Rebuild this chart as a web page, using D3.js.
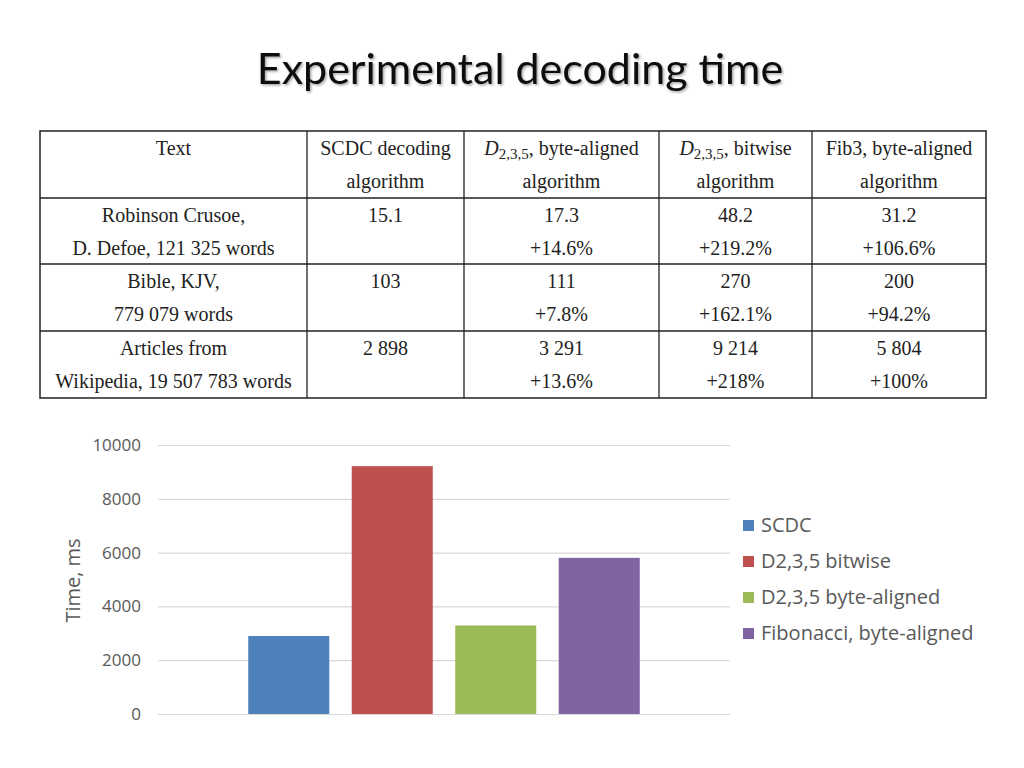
<!DOCTYPE html>
<html><head><meta charset="utf-8">
<script src="https://cdn.jsdelivr.net/npm/d3@7"></script>
<style>body{margin:0;background:#fff}svg{display:block}</style>
</head><body>
<svg id="c" width="1024" height="768"></svg>
<script>
// ---- data ----
const titleText = "Experimental decoding time";
const tableHeaders = [
  ["Text", ""],
  ["SCDC decoding", "algorithm"],
  ["D|2,3,5|, byte-aligned", "algorithm"],
  ["D|2,3,5|, bitwise", "algorithm"],
  ["Fib3, byte-aligned", "algorithm"]
];
const textNames = [["Robinson Crusoe,", "D. Defoe, 121 325 words"], ["Bible, KJV,", "779 079 words"], ["Articles from", "Wikipedia, 19 507 783 words"]];
const scdcTimes = ["15.1", "103", "2 898"];
const d235ByteTimes = ["17.3", "111", "3 291"];
const d235BytePct = ["+14.6%", "+7.8%", "+13.6%"];
const d235BitTimes = ["48.2", "270", "9 214"];
const d235BitPct = ["+219.2%", "+162.1%", "+218%"];
const fib3Times = ["31.2", "200", "5 804"];
const fib3Pct = ["+106.6%", "+94.2%", "+100%"];

const seriesNames = ["SCDC", "D2,3,5 bitwise", "D2,3,5 byte-aligned", "Fibonacci, byte-aligned"];
const seriesValues = [2898, 9214, 3291, 5804];
const seriesColors = ["#4f81bd", "#c0504d", "#9bbb59", "#8064a2"];
const yTicks = [0, 2000, 4000, 6000, 8000, 10000];
const yLabel = "Time, ms";

const svg = d3.select("#c");

// title with shadow
const defs = svg.append("defs");
const f = defs.append("filter").attr("id", "sh").attr("x", "-10%").attr("y", "-30%").attr("width", "120%").attr("height", "160%");
f.append("feDropShadow").attr("dx", 1.5).attr("dy", 1.5).attr("stdDeviation", 1).attr("flood-color", "#000").attr("flood-opacity", 0.35);
svg.append("text").attr("x", 520).attr("y", 84).attr("text-anchor", "middle")
  .attr("font-family", "Lato, 'Open Sans', sans-serif").attr("font-size", 43).attr("fill", "#111")
  .attr("filter", "url(#sh)").text(titleText);

// ---- table ----
const colEdges = [40, 307, 464, 659, 812, 986];
const rowEdges = [131, 198, 264, 331, 398];
const tg = svg.append("g").attr("font-family", "'Liberation Serif', 'DejaVu Serif', serif").attr("font-size", 20).attr("fill", "#222");
tg.append("rect").attr("x", colEdges[0]).attr("y", rowEdges[0]).attr("width", colEdges[5] - colEdges[0]).attr("height", rowEdges[4] - rowEdges[0])
  .attr("fill", "none").attr("stroke", "#222").attr("stroke-width", 1.5);
colEdges.slice(1, -1).forEach(x => tg.append("line").attr("x1", x).attr("x2", x).attr("y1", rowEdges[0]).attr("y2", rowEdges[4]).attr("stroke", "#222").attr("stroke-width", 1.3));
rowEdges.slice(1, -1).forEach(y => tg.append("line").attr("x1", colEdges[0]).attr("x2", colEdges[5]).attr("y1", y).attr("y2", y).attr("stroke", "#222").attr("stroke-width", 1.3));

function cellText(col, row, line, str) {
  const cx = (colEdges[col] + colEdges[col + 1]) / 2;
  const yy = rowEdges[row] + 24 + line * 33;
  const t = tg.append("text").attr("x", cx).attr("y", yy).attr("text-anchor", "middle");
  if (str.includes("|")) {
    const parts = str.split("|");
    t.append("tspan").attr("font-style", "italic").text(parts[0]);
    t.append("tspan").attr("font-size", 15).attr("dy", 4).text(parts[1]);
    t.append("tspan").attr("dy", -4).text(parts[2]);
  } else t.text(str);
}
tableHeaders.forEach((h, c) => h.forEach((s, l) => s && cellText(c, 0, l, s)));
const body = [textNames, scdcTimes.map(v => [v]),
  d235ByteTimes.map((v, i) => [v, d235BytePct[i]]),
  d235BitTimes.map((v, i) => [v, d235BitPct[i]]),
  fib3Times.map((v, i) => [v, fib3Pct[i]])];
body.forEach((col, c) => col.forEach((cell, r) => cell.forEach((s, l) => cellText(c, r + 1, l, s))));

// ---- chart ----
const pLeft = 158, pRight = 730, pTop = 445, pBottom = 714;
const y = d3.scaleLinear().domain([0, 10000]).range([pBottom, pTop]);
const x = d3.scaleBand().domain(seriesNames).range([pLeft, pRight]).paddingInner(0.217).paddingOuter(0.872);
const cg = svg.append("g").attr("font-family", "'Open Sans', 'Noto Sans', sans-serif");

const yAxis = d3.axisLeft(y).tickValues(yTicks).tickSize(-(pRight - pLeft)).tickPadding(17).tickFormat(d3.format("d"));
const ag = cg.append("g").attr("transform", `translate(${pLeft},0)`).call(yAxis);
ag.select(".domain").remove();
ag.selectAll(".tick line").attr("stroke", "#d9d9d9").attr("stroke-width", 1.2);
ag.selectAll(".tick text").attr("fill", "#595959").attr("font-size", 17).attr("font-family", "'Open Sans', sans-serif");

cg.selectAll("rect.bar").data(seriesValues).join("rect").attr("class", "bar")
  .attr("x", (d, i) => x(seriesNames[i])).attr("width", x.bandwidth())
  .attr("y", d => y(d)).attr("height", d => y(0) - y(d))
  .attr("fill", (d, i) => seriesColors[i]);

cg.append("text").attr("transform", `translate(80,${(pTop + pBottom) / 2 + 1}) rotate(-90)`).attr("text-anchor", "middle")
  .attr("fill", "#595959").attr("font-size", 20).text(yLabel);

const lg = cg.append("g").attr("transform", "translate(743,525)");
seriesNames.forEach((n, i) => {
  const g = lg.append("g").attr("transform", `translate(0,${i * 36})`);
  g.append("rect").attr("x", 0).attr("y", -5).attr("width", 11).attr("height", 11).attr("fill", seriesColors[i]);
  g.append("text").attr("x", 18).attr("y", 7).attr("fill", "#595959").attr("font-size", 20).text(n);
});
</script>
</body></html>
